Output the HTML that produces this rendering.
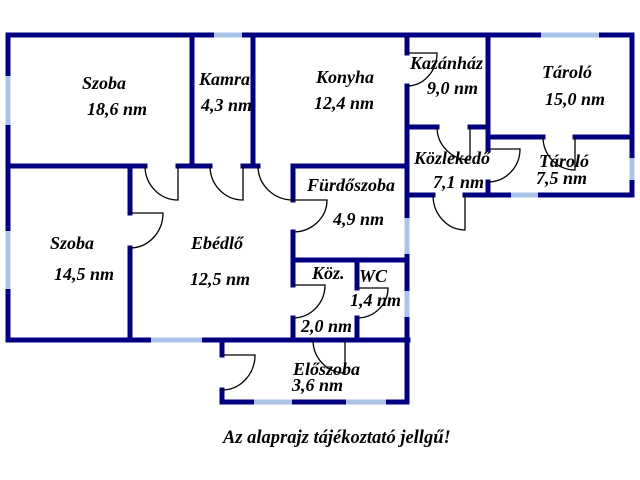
<!DOCTYPE html>
<html><head><meta charset="utf-8"><style>
html,body{margin:0;padding:0;background:#fff;}
svg{display:block}
text{font-family:"Liberation Serif",serif;font-weight:bold;font-style:italic;font-size:18px;fill:#000;}
</style></head><body>
<svg width="640" height="480" viewBox="0 0 640 480" xmlns="http://www.w3.org/2000/svg">
<g stroke="#000080" stroke-width="5" fill="none" stroke-linecap="square">
<line x1="8" y1="35" x2="632" y2="35"/>
<line x1="8" y1="35" x2="8" y2="340"/>
<line x1="8" y1="340" x2="408" y2="340"/>
<line x1="192" y1="35" x2="192" y2="166"/>
<line x1="253" y1="35" x2="253" y2="166"/>
<line x1="8" y1="166" x2="145" y2="166"/>
<line x1="178" y1="166" x2="210" y2="166"/>
<line x1="243" y1="166" x2="258" y2="166"/>
<line x1="293" y1="166" x2="407" y2="166"/>
<line x1="293" y1="166" x2="293" y2="200"/>
<line x1="293" y1="232" x2="293" y2="285"/>
<line x1="293" y1="318" x2="293" y2="340"/>
<line x1="130" y1="166" x2="130" y2="213"/>
<line x1="130" y1="248" x2="130" y2="340"/>
<line x1="293" y1="260" x2="407" y2="260"/>
<line x1="357" y1="260" x2="357" y2="288"/>
<line x1="357" y1="318" x2="357" y2="340"/>
<line x1="407" y1="35" x2="407" y2="53"/>
<line x1="407" y1="86" x2="407" y2="402"/>
<line x1="407" y1="127" x2="437" y2="127"/>
<line x1="470" y1="127" x2="488" y2="127"/>
<line x1="488" y1="35" x2="488" y2="149"/>
<line x1="488" y1="182" x2="488" y2="195"/>
<line x1="488" y1="137" x2="543" y2="137"/>
<line x1="575" y1="137" x2="632" y2="137"/>
<line x1="632" y1="35" x2="632" y2="195"/>
<line x1="407" y1="195" x2="433" y2="195"/>
<line x1="465" y1="195" x2="632" y2="195"/>
<line x1="293" y1="340" x2="313" y2="340"/>
<line x1="222" y1="340" x2="222" y2="355"/>
<line x1="222" y1="390" x2="222" y2="402"/>
<line x1="222" y1="402" x2="407" y2="402"/>
</g>
<g stroke="#a8c4e8" stroke-width="5">
<line x1="214" y1="35" x2="242" y2="35"/>
<line x1="541" y1="35" x2="599" y2="35"/>
<line x1="8" y1="76" x2="8" y2="125"/>
<line x1="8" y1="231" x2="8" y2="289"/>
<line x1="151" y1="340" x2="202" y2="340"/>
<line x1="407" y1="218" x2="407" y2="254"/>
<line x1="407" y1="291" x2="407" y2="317"/>
<line x1="632" y1="158" x2="632" y2="180"/>
<line x1="511" y1="195" x2="538" y2="195"/>
<line x1="254" y1="402" x2="292" y2="402"/>
<line x1="346" y1="402" x2="386" y2="402"/>
</g>
<g stroke="#000" stroke-width="1.3" fill="none">
<path d="M145 166 A33 34 0 0 0 178 200 L178 166"/>
<path d="M210 166 A33 34 0 0 0 243 200 L243 166"/>
<path d="M258 166 A35 34 0 0 0 293 200"/>
<path d="M293 200 L327 200 A34 32 0 0 1 293 232"/>
<path d="M293 285 L325 285 A32 33 0 0 1 293 318"/>
<path d="M357 288 L388 288 A31 30 0 0 1 357 318"/>
<path d="M313 340 A32 33 0 0 0 345 373 L345 340"/>
<path d="M222 355 L255 355 A33 35 0 0 1 222 390"/>
<path d="M130 213 L163 213 A33 35 0 0 1 130 248"/>
<path d="M407 53 L437 53 A30 33 0 0 1 407 86"/>
<path d="M437 127 A33 33 0 0 0 470 160 L470 127"/>
<path d="M488 149 L520 149 A32 33 0 0 1 488 182"/>
<path d="M543 137 A32 33 0 0 0 575 170 L575 137"/>
<path d="M433 195 A32 35 0 0 0 465 230 L465 195"/>
</g>
<text x="82" y="89">Szoba</text>
<text x="87" y="115">18,6 nm</text>
<text x="199" y="85">Kamra</text>
<text x="201" y="111">4,3 nm</text>
<text x="316" y="83">Konyha</text>
<text x="314" y="109">12,4 nm</text>
<text x="410" y="69">Kazánház</text>
<text x="427" y="94">9,0 nm</text>
<text x="542" y="78">Tároló</text>
<text x="545" y="105">15,0 nm</text>
<text x="414" y="164">Közlekedő</text>
<text x="433" y="188">7,1 nm</text>
<text x="539" y="167">Tároló</text>
<text x="536" y="184">7,5 nm</text>
<text x="307" y="191">Fürdőszoba</text>
<text x="333" y="225">4,9 nm</text>
<text x="50" y="249">Szoba</text>
<text x="54" y="280">14,5 nm</text>
<text x="191" y="249">Ebédlő</text>
<text x="190" y="285">12,5 nm</text>
<text x="312" y="279">Köz.</text>
<text x="359" y="282">WC</text>
<text x="350" y="306">1,4 nm</text>
<text x="301" y="332">2,0 nm</text>
<text x="293" y="375">Előszoba</text>
<text x="292" y="391">3,6 nm</text>
<text x="223" y="443" style="font-size:18.5px">Az alaprajz tájékoztató jellgű!</text>
</svg>
</body></html>
